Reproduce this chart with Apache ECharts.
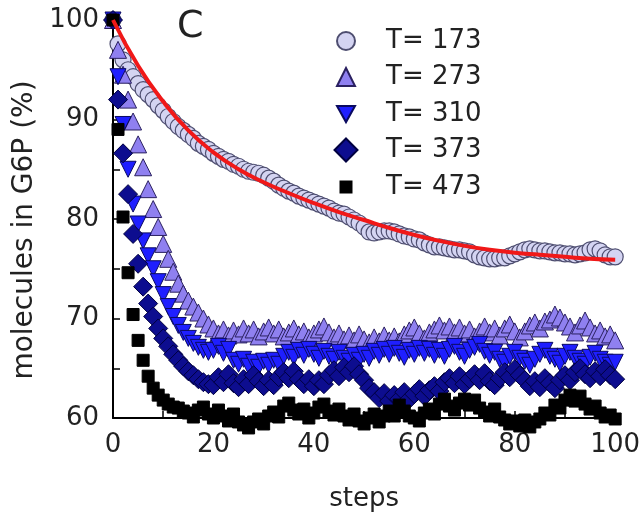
<!DOCTYPE html>
<html><head><meta charset="utf-8">
<script src="https://cdn.jsdelivr.net/npm/echarts@6/dist/echarts.min.js"></script>
<style>html,body{margin:0;padding:0;background:#fff}#c{width:643px;height:523px}</style>
</head><body><div id="c"></div>
<script>
const steps = Array.from({length: 101}, (_, i) => i);

const t173 = [100,97.6,96.0,95.0,94.3,93.6,93.0,92.5,92.0,91.4,
90.9,90.3,89.8,89.3,88.9,88.5,88.1,87.6,87.3,87.0,
86.6,86.3,86.0,85.8,85.5,85.3,85.0,84.8,84.7,84.6,
84.4,84.1,83.8,83.4,83.1,82.8,82.6,82.3,82.1,81.9,
81.7,81.5,81.3,81.1,80.8,80.6,80.5,80.2,79.9,79.6,
79.2,78.7,78.6,78.7,78.8,78.8,78.7,78.5,78.3,78.2,
78.0,77.9,77.6,77.4,77.2,77.2,77.1,77.0,76.9,76.9,
76.8,76.7,76.4,76.2,76.1,76.0,76.0,76.1,76.1,76.3,
76.5,76.7,76.9,77.0,76.9,76.8,76.8,76.7,76.6,76.6,
76.5,76.5,76.4,76.5,76.6,76.9,77.0,76.8,76.4,76.2,76.2];

const t273 = [100,97,94.5,92,89.8,87.5,85.2,83,81,79.2,
77.5,76,74.7,73.5,72.5,71.8,71.2,70.6,70.0,69.4,
69.0,68.5,68.9,68.3,68.8,68.4,69.0,68.5,68.9,68.2,
68.7,69.1,68.5,68.9,68.2,68.6,69.0,68.4,68.7,68.1,
68.5,68.9,69.2,68.6,68.1,68.5,67.9,68.3,67.8,68.4,
67.9,67.6,68.1,67.7,68.3,67.8,68.2,67.7,68.4,68.8,
69.1,68.5,68.0,68.6,68.9,69.3,68.8,69.2,68.6,69.1,
68.5,68.9,68.2,68.7,69.2,68.6,69.0,68.3,69.0,69.4,
68.7,68.1,68.7,69.3,69.6,69.0,69.7,69.9,70.4,70.1,
69.6,69.2,68.6,69.3,69.8,69.1,68.5,68.8,68.2,68.4,67.8];

const t310 = [100,94.3,89.5,85,81.5,79.5,77.8,76.3,75,73.7,
72.4,71.2,70.2,69.3,68.6,68.0,67.5,67.1,66.8,66.6,
66.8,67.2,66.5,66.9,65.8,65.4,65.9,65.2,65.6,65.1,
65.7,65.3,65.8,65.4,66.2,66.6,66.1,66.8,66.3,66.9,
66.4,66.0,66.7,66.2,65.9,66.6,66.0,65.7,66.3,65.8,
66.4,66.0,66.7,66.3,66.9,66.4,67.0,66.5,66.1,66.8,
66.4,67.0,66.5,66.9,66.3,66.8,66.2,66.9,67.2,66.6,
66.2,66.8,67.1,67.4,66.7,66.3,66.6,65.9,65.6,66.2,
66.6,66.0,65.7,65.3,65.9,66.4,66.8,66.2,65.9,65.5,
66.2,66.6,66.0,65.7,65.4,66.1,66.5,65.9,65.6,65.3,65.6];

const t373 = [100,92,86.6,82.5,78.5,75.5,73.2,71.5,70.2,69,
68,67.2,66.4,65.8,65.2,64.7,64.3,63.9,63.6,63.4,
63.3,64.1,63.6,64.4,63.5,63.1,63.9,63.4,64.3,63.7,
63.2,63.8,63.3,64.1,64.6,64.0,64.7,63.9,63.4,63.9,
63.2,63.8,63.4,64.3,64.8,64.2,65.1,64.6,65.2,64.4,
63.8,63.0,62.6,62.0,62.5,61.7,62.3,61.9,62.6,61.9,
62.4,62.9,62.2,62.8,63.2,62.7,63.6,64.0,63.5,64.2,
63.4,63.9,64.4,63.8,64.5,63.7,63.3,64.0,64.6,64.1,
64.9,64.3,63.8,63.2,63.7,63.1,64.0,63.5,63.0,63.8,
64.3,63.8,64.6,65.0,64.4,64.0,64.7,64.2,64.9,64.3,63.9];

const t473 = [100,89,80.2,74.6,70.4,67.8,65.8,64.2,63.0,62.3,
61.8,61.4,61.1,61.0,60.7,60.5,60.1,60.8,61.1,60.4,
60.0,60.8,60.2,59.7,60.4,59.6,59.3,59.0,59.6,59.9,
59.4,60.2,60.6,60.1,61.2,61.5,60.8,60.4,60.9,60.0,
60.5,61.1,61.4,60.7,60.3,60.9,60.2,59.8,60.4,59.7,
59.4,60.0,60.4,59.6,60.2,60.7,60.2,61.3,60.7,60.2,
60.0,59.7,60.5,60.9,60.4,61.4,61.9,61.2,60.8,61.5,
61.9,61.3,61.8,61.0,60.6,60.2,60.9,60.1,59.8,59.4,
59.7,59.2,59.8,59.1,59.6,59.9,60.5,60.3,61.3,61.0,
61.8,62.3,61.7,62.2,61.4,60.9,61.2,60.5,60.1,60.3,59.9];

const fitSteps = [0,5,10,15,20,25,30,35,40,45,50,55,60,65,70,75,80,85,90,95,100];
const fitValues = [100,95.4,91.8,88.9,86.7,85.0,83.7,82.6,81.6,80.7,79.9,79.1,78.4,77.8,77.3,76.9,76.6,76.4,76.2,76.0,75.9];

const xTicks = {min: 0, max: 100, interval: 20};
const yTicks = {min: 60, max: 100, interval: 10};

const seriesNames = ['T= 173', 'T= 273', 'T= 310', 'T= 373', 'T= 473'];
const downTri = 'path://M0,0L10,0L5,9Z';

const FONT = 'DejaVu Sans';
const TXT = '#222';

const pairs = (xs, ys) => ys.map((v, i) => [xs[i], v]);

const styles = [
  {symbol: 'circle', size: 16, legendSize: 18, itemStyle: {color: '#d4d4f2', borderColor: '#4e4e70', borderWidth: 1.2, opacity: 1}},
  {symbol: 'triangle', size: 17, legendSize: 18, itemStyle: {color: '#8f80f0', borderColor: '#2a2060', borderWidth: 1, opacity: 1}},
  {symbol: downTri, size: 16, legendSize: 18, itemStyle: {color: '#1f1fff', borderColor: '#0a0a60', borderWidth: 1, opacity: 1}},
  {symbol: 'diamond', size: 19, legendSize: 23, itemStyle: {color: '#0d0d8f', borderColor: '#000040', borderWidth: 1, opacity: 1}},
  {symbol: 'rect', size: 12, legendSize: 11, itemStyle: {color: '#000000', borderColor: '#000000', borderWidth: 1, opacity: 1}}
];
const dataSets = [t173, t273, t310, t373, t473];
const rowCenters = [41, 77, 114, 150, 187];

const legends = seriesNames.map((n, i) => {
  const s = styles[i].legendSize;
  return {
    data: [{name: n, icon: styles[i].symbol}],
    left: 345 - s / 2, top: rowCenters[i] - 13, padding: 0,
    itemWidth: s, itemHeight: s,
    textStyle: {fontFamily: FONT, fontSize: 26, color: TXT, padding: [0, 0, 0, 35 - s / 2]},
    selectedMode: false
  };
});

const scatter = seriesNames.map((n, i) => ({
  name: n, type: 'scatter', clip: false,
  symbol: styles[i].symbol, symbolSize: styles[i].size,
  itemStyle: styles[i].itemStyle,
  data: pairs(steps, dataSets[i]),
  z: 2 + i
}));

const option = {
  animation: false,
  backgroundColor: '#fff',
  title: {text: 'C', left: 177, top: 8, padding: 0,
    textStyle: {fontFamily: FONT, fontSize: 38, fontWeight: 'normal', color: TXT}},
  legend: legends,
  grid: {left: 113, right: 27, top: 20, bottom: 105, containLabel: false},
  xAxis: {
    type: 'value', min: xTicks.min, max: xTicks.max, interval: xTicks.interval,
    name: 'steps', nameLocation: 'middle', nameGap: 68,
    nameTextStyle: {fontFamily: FONT, fontSize: 26, color: TXT},
    axisLine: {show: true, lineStyle: {color: '#000', width: 2}},
    axisTick: {show: true, inside: true, length: 7, lineStyle: {color: '#000', width: 1.5}},
    minorTick: {show: true, splitNumber: 2, length: 7, lineStyle: {color: '#000', width: 1.5}},
    splitLine: {show: false},
    axisLabel: {fontFamily: FONT, fontSize: 26, color: TXT, margin: 14}
  },
  yAxis: {
    type: 'value', min: yTicks.min, max: yTicks.max, interval: yTicks.interval,
    name: 'molecules in G6P (%)', nameLocation: 'middle', nameGap: 74,
    nameTextStyle: {fontFamily: FONT, fontSize: 28, color: TXT, padding: [0, 22, 0, 0]},
    axisLine: {show: true, lineStyle: {color: '#000', width: 2}},
    axisTick: {show: true, inside: true, length: 7, lineStyle: {color: '#000', width: 1.5}},
    minorTick: {show: true, splitNumber: 2, length: 7, lineStyle: {color: '#000', width: 1.5}},
    splitLine: {show: false},
    axisLabel: {fontFamily: FONT, fontSize: 26, color: TXT, margin: 14}
  },
  series: scatter.concat([{
    name: 'fit', type: 'line', smooth: true, showSymbol: false, symbol: 'none',
    lineStyle: {color: '#f01818', width: 4},
    data: pairs(fitSteps, fitValues), z: 10
  }])
};

const chart = echarts.init(document.getElementById('c'), null, {renderer: 'canvas'});
chart.setOption(option);
</script>
</body></html>
